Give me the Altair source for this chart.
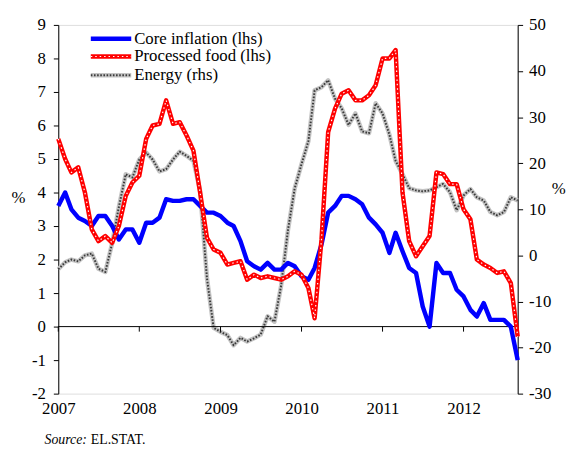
import altair as alt
import pandas as pd

# ---------------- data ----------------
months = pd.date_range("2007-01-01", periods=69, freq="MS")
years = [2007, 2008, 2009, 2010, 2011, 2012]

core = [3.6, 4.0, 3.5, 3.25, 3.15, 3.0, 3.3, 3.3, 3.0, 2.6, 2.9, 2.9,
        2.5, 3.1, 3.1, 3.25, 3.8, 3.75, 3.75, 3.8, 3.8, 3.6, 3.4, 3.4,
        3.3, 3.1, 3.0, 2.55, 1.95, 1.8, 1.7, 1.9, 1.7, 1.7, 1.9, 1.8,
        1.5, 1.4, 1.75, 2.45, 3.4, 3.6, 3.9, 3.9, 3.8, 3.65, 3.25, 3.05,
        2.8, 2.2, 2.8, 2.25, 1.75, 1.6, 0.6, 0.0, 1.9, 1.6, 1.6, 1.1,
        0.9, 0.5, 0.3, 0.7, 0.2, 0.2, 0.2, 0.0, -1.0]

food = [5.6, 5.0, 4.6, 4.75, 4.0, 2.9, 2.55, 2.7, 2.5, 3.0, 3.9, 4.3,
        4.5, 5.6, 6.0, 6.05, 6.75, 6.05, 6.1, 5.7, 5.25, 4.0, 2.65, 2.3,
        2.2, 1.85, 1.9, 1.95, 1.4, 1.55, 1.45, 1.5, 1.45, 1.4, 1.5, 1.65,
        1.55, 1.15, 0.25, 2.6, 5.8, 6.5, 6.95, 7.05, 6.75, 6.75, 6.9, 7.2,
        8.0, 8.0, 8.25, 4.0, 2.55, 2.1, 2.4, 2.7, 4.6, 4.55, 4.25, 4.25,
        3.5, 3.2, 2.0, 1.85, 1.75, 1.6, 1.65, 1.3, -0.3]

energy = [-3.0, -1.5, -0.9, -1.3, 0.0, 0.4, -2.9, -3.6, 2.7, 10.5, 17.6, 16.9,
          20.8, 22.3, 20.8, 18.2, 18.7, 20.8, 22.5, 21.6, 20.5, 14.0, -5.0, -15.7,
          -16.6, -17.3, -19.5, -17.9, -18.7, -18.0, -17.2, -13.2, -14.4, -6.6, 5.5, 14.5,
          19.8, 24.8, 35.8, 36.5, 38.0, 34.0, 31.9, 28.3, 30.8, 26.9, 26.5, 33.0,
          30.8, 26.2, 20.5, 17.6, 14.6, 14.1, 13.9, 14.1, 14.8, 15.5, 13.7, 9.8,
          13.0, 14.4, 12.6, 11.9, 9.4, 8.7, 9.4, 12.6, 11.9]

left_ticks = list(range(-2, 10))
right_ticks = list(range(-30, 51, 10))
legend_labels = ["Core inflation (lhs)", "Processed food (lhs)", "Energy (rhs)"]
source_label = ["Source:", "EL.STAT."]

df = pd.DataFrame({"date": months, "core": core, "food": food, "energy": energy})
year_df = pd.DataFrame({"date": pd.to_datetime([f"{y}-01-01" for y in years])})
one = pd.DataFrame({"z": [0]})

# ---------------- styling ----------------
FONT = "Liberation Serif"
FS = 17
W, H = 466, 374
BLUE, RED, GRAY, DARK = "#0000FF", "#FF0000", "#c4c4c4", "#3a3a3a"

x_axis = alt.Axis(values=[alt.DateTime(year=y, month=1, date=1) for y in years],
                  format="%Y", domain=False, ticks=False, grid=False,
                  labelPadding=7, labelFlush=False, labelFont=FONT,
                  labelFontSize=FS, labelColor="black", title=None)
x_scale = alt.Scale(domain=[alt.DateTime(year=2007, month=1, date=1),
                            alt.DateTime(year=2012, month=9, date=1)])

left_axis = alt.Axis(values=left_ticks, grid=False, tickSize=5, tickColor="black",
                     domainColor="black", labelPadding=8, labelFont=FONT,
                     labelFontSize=FS, labelColor="black",
                     labelExpr="'' + datum.value",
                     title="%", titleAngle=0, titleX=-41, titleY=175,
                     titleFont=FONT, titleFontSize=FS, titleFontWeight="normal",
                     titleAlign="center", titleBaseline="middle", titleColor="black")
left_scale = alt.Scale(domain=[-2, 9], nice=False, zero=False)

right_axis = alt.Axis(values=right_ticks, orient="right", grid=False, tickSize=5,
                      tickColor="black", domainColor="black", labelPadding=6,
                      labelFont=FONT, labelFontSize=FS, labelColor="black",
                      labelExpr="'' + datum.value",
                      title="%", titleAngle=0, titleX=41, titleY=166,
                      titleFont=FONT, titleFontSize=FS, titleFontWeight="normal",
                      titleAlign="center", titleBaseline="middle", titleColor="black")
right_scale = alt.Scale(domain=[-30, 50], nice=False, zero=False)


def xenc():
    return alt.X("date:T", scale=x_scale, axis=x_axis)


def yl(field):
    return alt.Y(f"{field}:Q", scale=left_scale, axis=left_axis)


base = alt.Chart(df)

zero_rule = alt.Chart(one).mark_rule(color="black", strokeWidth=1).encode(
    y=alt.Y("z:Q", scale=left_scale, axis=left_axis))
year_ticks = alt.Chart(year_df).mark_rule(color="black", strokeWidth=1).encode(
    x=xenc(),
    y=alt.Y(datum=0, scale=left_scale, axis=left_axis),
    y2=alt.Y2(datum=-0.15))

blue = base.mark_line(color=BLUE, strokeWidth=4.5, strokeJoin="round").encode(
    x=xenc(), y=yl("core"))
red = base.mark_line(color=RED, strokeWidth=4.5, strokeJoin="round").encode(
    x=xenc(), y=yl("food"))
red_dots = base.mark_line(color="white", strokeWidth=1.2, strokeDash=[1.5, 3],
                          strokeJoin="round").encode(x=xenc(), y=yl("food"))

left = alt.layer(zero_rule, year_ticks, blue, red, red_dots)

gray = base.mark_line(color=GRAY, strokeWidth=4.5, strokeJoin="round").encode(
    x=xenc(), y=alt.Y("energy:Q", scale=right_scale, axis=right_axis))
gray_dots = base.mark_line(color=DARK, strokeWidth=2, strokeDash=[1.6, 1.6],
                           strokeJoin="round").encode(
    x=xenc(), y=alt.Y("energy:Q", scale=right_scale, axis=right_axis))
right = alt.layer(gray, gray_dots)

# ---------------- legend & source ----------------
lg = alt.Chart(one)
legend_layers = []
ys = [14, 32, 51]
legend_layers.append(lg.mark_rule(color=BLUE, strokeWidth=4.5).encode(
    x=alt.value(33), x2=alt.value(74), y=alt.value(ys[0])))
legend_layers.append(lg.mark_rule(color=RED, strokeWidth=4.5).encode(
    x=alt.value(33), x2=alt.value(74), y=alt.value(ys[1])))
legend_layers.append(lg.mark_rule(color="white", strokeWidth=1.2, strokeDash=[1.5, 3]).encode(
    x=alt.value(33), x2=alt.value(74), y=alt.value(ys[1])))
legend_layers.append(lg.mark_rule(color=GRAY, strokeWidth=4.5).encode(
    x=alt.value(33), x2=alt.value(74), y=alt.value(ys[2])))
legend_layers.append(lg.mark_rule(color=DARK, strokeWidth=2, strokeDash=[1.6, 1.6]).encode(
    x=alt.value(33), x2=alt.value(74), y=alt.value(ys[2])))
for lab, yy in zip(legend_labels, ys):
    legend_layers.append(lg.mark_text(text=lab, font=FONT, fontSize=FS, align="left",
                                      baseline="middle", color="black").encode(
        x=alt.value(77), y=alt.value(yy)))

legend_layers.append(lg.mark_text(text=source_label[0], font=FONT, fontSize=14,
                                  fontStyle="italic", align="left", baseline="middle",
                                  color="black").encode(x=alt.value(-14), y=alt.value(421)))
legend_layers.append(lg.mark_text(text=source_label[1], font=FONT, fontSize=14,
                                  align="left", baseline="middle",
                                  color="black").encode(x=alt.value(33), y=alt.value(421)))

chart = alt.layer(right, left, *legend_layers).resolve_scale(y="independent").properties(
    width=W, height=H,
    autosize=alt.AutoSizeParams(type="none"),
    padding={"left": 51, "top": 14, "right": 49, "bottom": 54},
).configure_view(stroke="black", strokeWidth=1).configure(background="white")

chart.save("out.html", embed_options={"renderer": "svg", "actions": False})
